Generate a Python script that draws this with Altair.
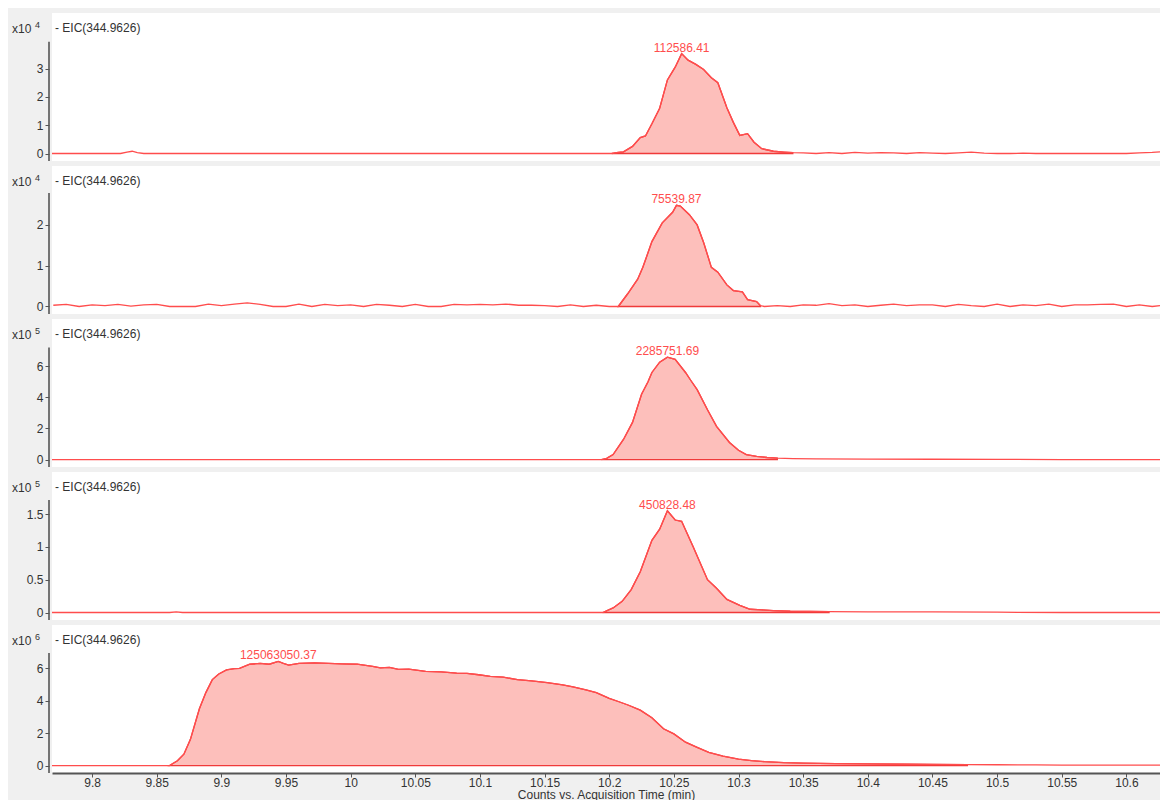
import altair as alt
import pandas as pd

# ---------------- data ----------------
TITLE = "- EIC(344.9626)"
X_TITLE = "Counts vs. Acquisition Time (min)"
X_DOMAIN = [9.769, 10.626]
x_ticks = [9.8, 9.85, 9.9, 9.95, 10.0, 10.05, 10.1, 10.15, 10.2, 10.25,
           10.3, 10.35, 10.4, 10.45, 10.5, 10.55, 10.6]

# panel 1 (x10^4)
t1 = [9.769, 9.80, 9.822, 9.827, 9.831, 9.835, 9.84, 10.0, 10.195,
      10.202, 10.207, 10.211, 10.218, 10.224, 10.228, 10.233, 10.239, 10.245, 10.251,
      10.256, 10.261, 10.267, 10.273, 10.279, 10.284, 10.291, 10.296, 10.301, 10.307,
      10.312, 10.318, 10.327, 10.335, 10.342,
      10.35, 10.36, 10.37, 10.38, 10.39, 10.40, 10.41, 10.42, 10.43, 10.44,
      10.45, 10.46, 10.47, 10.48, 10.49, 10.50, 10.51, 10.52, 10.53, 10.54,
      10.55, 10.56, 10.57, 10.58, 10.59, 10.60, 10.61, 10.62, 10.626]
v1 = [0, 0, 0, 0.05, 0.08, 0.03, 0, 0, 0,
      0.0, 0.04, 0.06, 0.25, 0.56, 0.62, 1.05, 1.6, 2.6, 3.05,
      3.53, 3.3, 3.15, 2.97, 2.68, 2.5, 1.62, 1.1, 0.64, 0.7,
      0.4, 0.17, 0.08, 0.05, 0.03,
      0.02, 0.0, 0.03, 0.0, 0.04, 0.01, 0.03, 0.02, 0.0, 0.03,
      0.01, 0.0, 0.02, 0.05, 0.01, 0.0, 0.0, 0.01, 0.0, 0.0,
      0.0, 0.0, 0.0, 0.0, 0.0, 0.0, 0.02, 0.04, 0.06]

# panel 2 (x10^4)
t2 = [9.77, 9.78, 9.79, 9.80, 9.81, 9.82, 9.83, 9.84, 9.85, 9.86,
      9.87, 9.88, 9.89, 9.90, 9.91, 9.92, 9.93, 9.94, 9.95, 9.96,
      9.97, 9.98, 9.99, 10.00, 10.01, 10.02, 10.03, 10.04, 10.05, 10.06,
      10.07, 10.08, 10.09, 10.10, 10.11, 10.12, 10.13, 10.14, 10.15, 10.16,
      10.17, 10.18, 10.19, 10.20,
      10.207, 10.214, 10.222, 10.226, 10.233, 10.241, 10.249, 10.252, 10.255, 10.262,
      10.268, 10.273, 10.279, 10.284, 10.291, 10.296, 10.303, 10.307, 10.314, 10.317,
      10.32, 10.33, 10.34, 10.35, 10.36, 10.37, 10.38, 10.39, 10.40, 10.41,
      10.42, 10.43, 10.44, 10.45, 10.46, 10.47, 10.48, 10.49, 10.50, 10.51,
      10.52, 10.53, 10.54, 10.55, 10.56, 10.57, 10.58, 10.59, 10.60, 10.61,
      10.62, 10.626]
v2 = [0.03, 0.05, 0.0, 0.04, 0.02, 0.05, 0.01, 0.04, 0.05, 0.0,
      0.0, 0.0, 0.06, 0.02, 0.06, 0.09, 0.05, 0.0, 0.0, 0.06,
      0.0, 0.05, 0.02, 0.04, 0.0, 0.05, 0.03, 0.0, 0.05, 0.0,
      0.0, 0.05, 0.04, 0.05, 0.04, 0.06, 0.03, 0.03, 0.02, 0.0,
      0.04, 0.0, 0.03, 0.0,
      0.0, 0.3, 0.67, 0.96, 1.59, 2.05, 2.31, 2.48, 2.46, 2.25,
      2.0, 1.57, 0.96, 0.84, 0.53, 0.39, 0.36, 0.17, 0.12, 0.02,
      0.0, 0.02, 0.0, 0.04, 0.03, 0.07, 0.02, 0.04, 0.0, 0.03,
      0.06, 0.02, 0.04, 0.04, 0.0, 0.05, 0.02, 0.0, 0.06, 0.0,
      0.04, 0.02, 0.06, 0.0, 0.04, 0.04, 0.05, 0.06, 0.0, 0.04,
      0.0, 0.02]

# panel 3 (x10^5)
t3 = [9.769, 10.0, 10.18, 10.194, 10.198, 10.203, 10.211, 10.218, 10.225, 10.23,
      10.233, 10.239, 10.245, 10.251, 10.259, 10.263, 10.268, 10.276, 10.283, 10.293,
      10.30, 10.306, 10.314, 10.322, 10.33, 10.342, 10.36, 10.40, 10.45, 10.50,
      10.55, 10.60, 10.626]
v3 = [0, 0.0, 0.0, 0.0, 0.08, 0.32, 1.29, 2.39, 4.2, 5.0,
      5.6, 6.26, 6.58, 6.45, 5.6, 5.1, 4.5, 3.2, 2.13, 1.1,
      0.6, 0.32, 0.2, 0.13, 0.09, 0.06, 0.04, 0.03, 0.02, 0.01,
      0.0, 0.0, 0.0]

# panel 4 (x10^5)
t4 = [9.769, 9.86, 9.865, 9.87, 10.0, 10.18, 10.195, 10.203, 10.21, 10.217,
      10.224, 10.233, 10.239, 10.245, 10.251, 10.256, 10.265, 10.276, 10.283, 10.291,
      10.301, 10.309, 10.318, 10.327, 10.34, 10.37, 10.40, 10.45, 10.5, 10.55,
      10.6, 10.626]
v4 = [0, 0, 0.01, 0, 0, 0, 0, 0.07, 0.17, 0.35,
      0.62, 1.1, 1.27, 1.55, 1.41, 1.39, 1.0, 0.5, 0.37, 0.2,
      0.11, 0.05, 0.04, 0.03, 0.02, 0.015, 0.01, 0.01, 0.005, 0.0,
      0.0, 0.0]

# panel 5 (x10^6)
t5 = [9.769, 9.85, 9.86, 9.866, 9.871, 9.876, 9.883, 9.888, 9.893, 9.898,
      9.904, 9.91, 9.914, 9.922, 9.93, 9.937, 9.944, 9.948, 9.952, 9.96,
      9.972, 9.983, 9.993, 10.005, 10.017, 10.023, 10.03, 10.037, 10.045, 10.058,
      10.07, 10.082, 10.09, 10.099, 10.108, 10.118, 10.129, 10.14, 10.152, 10.164,
      10.172, 10.182, 10.19, 10.2, 10.207, 10.215, 10.224, 10.233, 10.242, 10.25,
      10.259, 10.268, 10.277, 10.288, 10.3, 10.31, 10.32, 10.335, 10.35, 10.375,
      10.4, 10.43, 10.45, 10.477, 10.5, 10.53, 10.55, 10.58, 10.6, 10.626]
v5 = [0, 0, 0, 0.3, 0.7, 1.6, 3.5, 4.5, 5.3, 5.65,
      5.9, 5.98, 6.0, 6.25, 6.3, 6.25, 6.42, 6.3, 6.2, 6.3,
      6.33, 6.3, 6.27, 6.25, 6.12, 6.02, 6.05, 5.93, 5.95, 5.81,
      5.78, 5.7, 5.68, 5.6, 5.5, 5.45, 5.3, 5.22, 5.12, 4.98,
      4.85, 4.67, 4.5, 4.15, 3.95, 3.72, 3.42, 2.95, 2.27, 1.95,
      1.44, 1.12, 0.81, 0.58, 0.4, 0.3, 0.24, 0.18, 0.15, 0.12,
      0.1, 0.08, 0.07, 0.06, 0.05, 0.04, 0.03, 0.03, 0.02, 0.02]

exponents = ["4", "4", "5", "5", "6"]
y_ticks = [[0, 1, 2, 3], [0, 1, 2], [0, 2, 4, 6], [0, 0.5, 1, 1.5], [0, 2, 4, 6]]
y_domains = [[-0.265, 4.965], [-0.184, 3.444], [-0.48, 9.04], [-0.114, 2.142], [-0.46, 8.67]]
axis_tops = [3.95, 2.78, 7.2, 1.715, 6.94]
integration = [[10.202, 10.342], [10.207, 10.317], [10.194, 10.33], [10.195, 10.37], [9.86, 10.477]]
peak_t = [10.256, 10.252, 10.245, 10.245, 9.944]
peak_v = [3.53, 2.48, 6.58, 1.55, 6.42]
peak_labels = ["112586.41", "75539.87", "2285751.69", "450828.48", "125063050.37"]
series_t = [t1, t2, t3, t4, t5]
series_v = [v1, v2, v3, v4, v5]

# ---------------- styling ----------------
FONT = "Liberation Sans"
LINE = "#ff4d4d"
FILL = "#fdbfbb"
EDGE = "#f03a3a"
AXIS = "#555555"
TEXT = "#333333"
W, H = 1108, 148


def make_panel(i, last):
    df = pd.DataFrame({"t": series_t[i], "v": series_v[i]})
    lo, hi = y_domains[i]
    start, end = integration[i]
    if last:
        xaxis = alt.Axis(values=x_ticks, format=".4~g", title=X_TITLE, grid=False,
                         domainColor=AXIS, domainWidth=2, tickColor=AXIS, tickSize=4,
                         labelPadding=0, titlePadding=1, titleFontWeight="normal",
                         titleFontSize=12, titleFont=FONT, titleColor=TEXT,
                         labelFlush=False)
    else:
        xaxis = None
    xenc = alt.X("t:Q", scale=alt.Scale(domain=X_DOMAIN, nice=False, zero=False), axis=xaxis)
    yenc = alt.Y("v:Q", scale=alt.Scale(domain=[lo, hi], nice=False, zero=False),
                 axis=alt.Axis(values=y_ticks[i], format="~g", domain=False, grid=False,
                               title=None, tickSize=4, offset=3, tickColor=AXIS,
                               labelPadding=2))
    base = alt.Chart(df)
    area = base.transform_filter(
        (alt.datum.t >= start) & (alt.datum.t <= end)
    ).mark_area(fill=FILL, stroke=EDGE, strokeWidth=1.3, clip=True).encode(x=xenc, y=yenc)
    line = base.mark_line(color=LINE, strokeWidth=1.3, clip=True).encode(x="t:Q", y="v:Q")

    rule = alt.Chart(pd.DataFrame({"a": [lo], "b": [axis_tops[i]]})).mark_rule(
        color=AXIS, strokeWidth=1.6
    ).encode(x=alt.value(-3), y="a:Q", y2="b:Q")

    peak = alt.Chart(pd.DataFrame({"t": [peak_t[i]], "v": [peak_v[i]], "lab": [peak_labels[i]]})).mark_text(
        color=LINE, font=FONT, fontSize=12, baseline="bottom", dy=1
    ).encode(x="t:Q", y="v:Q", text="lab:N")

    one = pd.DataFrame({"s": [TITLE], "x": ["x10"], "e": [exponents[i]]})
    title = alt.Chart(one).mark_text(
        align="left", baseline="middle", font=FONT, fontSize=12, color=TEXT
    ).encode(x=alt.value(3), y=alt.value(15), text="s:N")
    x10 = alt.Chart(one).mark_text(
        align="left", baseline="middle", font=FONT, fontSize=12, color=TEXT
    ).encode(x=alt.value(-40), y=alt.value(16), text="x:N")
    expo = alt.Chart(one).mark_text(
        align="left", baseline="middle", font=FONT, fontSize=9, color=TEXT
    ).encode(x=alt.value(-17), y=alt.value(12), text="e:N")

    return alt.layer(area, line, rule, peak, title, x10, expo).properties(width=W, height=H)


panels = [make_panel(i, i == 4) for i in range(5)]

chart = alt.vconcat(*panels, spacing=4).properties(
    padding={"left": 4, "top": 5, "right": 0, "bottom": 0},
    background="#f0f0f0",
).configure_view(
    fill="white", strokeWidth=0
).configure_axis(
    labelFont=FONT, labelFontSize=12, labelColor=TEXT
)

chart.save("out.html", embed_options={"renderer": "svg", "actions": False})
